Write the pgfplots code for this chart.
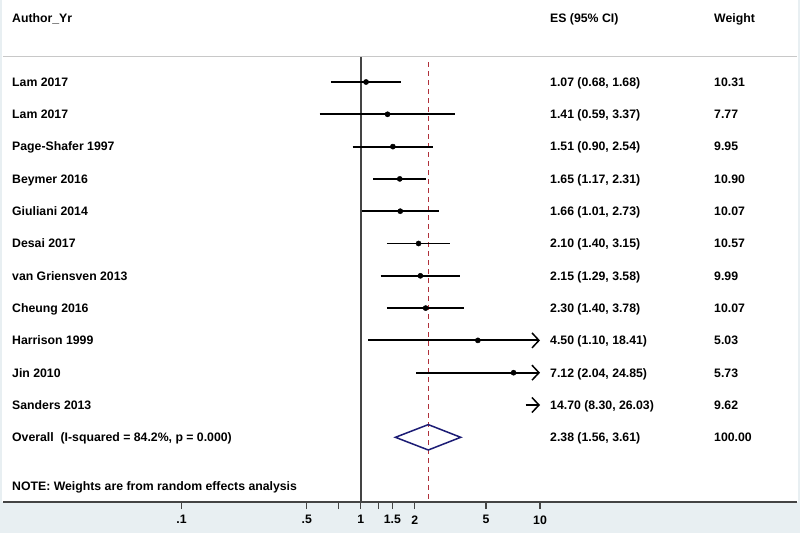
\documentclass[border=0pt]{standalone}
\usepackage{fontspec}
\setmainfont{Liberation Sans}
\usepackage{pgfplots}
\pgfplotsset{compat=1.18}
\usetikzlibrary{arrows.meta}
\definecolor{bgstrip}{HTML}{E8EFF2}
\definecolor{hdrline}{HTML}{C8C8C8}
\definecolor{nullc}{HTML}{444444}
\definecolor{refred}{HTML}{B0303A}
\definecolor{dia}{HTML}{1C1C75}
\newcommand\tf{\fontsize{12.27pt}{14pt}\selectfont\bfseries}
\begin{document}
\begin{tikzpicture}
\fill[bgstrip] (-3pt,-31pt) rectangle (797pt,502pt);
\fill[white] (-1pt,0pt) rectangle (795pt,502pt);
\useasboundingbox (-3pt,-31pt) rectangle (797pt,502pt);
\begin{axis}[
  scale only axis, width=794pt, height=502pt,
  at={(0pt,0pt)}, anchor=south west,
  xmode=log, xmin=0.010077, xmax=271.7,
  ymin=-14.003, ymax=1.5387,
  axis y line=none, axis x line*=bottom,
  axis line style={nullc, line width=1.6pt},
  xtick={0.1,0.5,0.75,1,1.25,1.5,2,5,10},
  xticklabels={.1,.5,,1,,1.5,2,5,10},
  minor xtick={}, 
  tick align=outside, major tick length=7pt,
  tick style={nullc, line width=1.2pt},
  xticklabel style={font=\tf, text=black, yshift=-3pt},
  /pgf/number format/assume math mode=true,
  clip=false,
  ci/.style={black, line width=1.9pt, forget plot},
  arr/.style={-{Straight Barb[length=7pt,width=15pt,line width=1.5pt]}},
]
% header line
\draw[hdrline, line width=1pt] (axis cs:0.010077,-0.226) -- (axis cs:271.7,-0.226);
% null line and overall ES line
\addplot[nullc, line width=1.5pt] coordinates {(1,-0.226) (1,-14.003)};
\addplot[refred, line width=1.2pt, dash pattern=on 5pt off 4pt] coordinates {(2.38,-0.381) (2.38,-14.003)};
% confidence intervals
\addplot[ci] coordinates {(0.68,-1) (1.68,-1)};
\addplot[ci] coordinates {(0.59,-2) (3.37,-2)};
\addplot[ci] coordinates {(0.90,-3) (2.54,-3)};
\addplot[ci] coordinates {(1.17,-4) (2.31,-4)};
\addplot[ci] coordinates {(1.01,-5) (2.73,-5)};
\addplot[ci] coordinates {(1.40,-6) (3.15,-6)};
\addplot[ci] coordinates {(1.29,-7) (3.58,-7)};
\addplot[ci] coordinates {(1.40,-8) (3.78,-8)};
\addplot[ci, arr] coordinates {(1.10,-9) (10,-9)};
\addplot[ci, arr] coordinates {(2.04,-10) (10,-10)};
\addplot[ci, arr] coordinates {(8.30,-11) (10,-11)};
% point estimates
\addplot[only marks, mark=*, mark size=2.6pt, black] coordinates {
(1.07,-1) (1.41,-2) (1.51,-3) (1.65,-4) (1.66,-5) (2.10,-6) (2.15,-7) (2.30,-8) (4.50,-9) (7.12,-10)};
% overall diamond
\addplot[dia, line width=1.5pt, line join=miter] coordinates {(1.56,-12) (2.38,-11.607) (3.61,-12) (2.38,-12.393)} -- cycle;
% text
\tikzset{lab/.style={anchor=base west, yshift=-4.4pt, font=\tf, inner sep=0pt}}
\node[lab] at (axis cs:0.011313,0.981) {Author\_Yr};
\node[lab] at (axis cs:11.369,0.981) {ES (95\% CI)};
\node[lab] at (axis cs:93.54,0.981) {Weight};
\node[lab] at (axis cs:0.011313,-1) {Lam 2017};
\node[lab] at (axis cs:0.011313,-2) {Lam 2017};
\node[lab] at (axis cs:0.011313,-3) {Page-Shafer 1997};
\node[lab] at (axis cs:0.011313,-4) {Beymer 2016};
\node[lab] at (axis cs:0.011313,-5) {Giuliani 2014};
\node[lab] at (axis cs:0.011313,-6) {Desai 2017};
\node[lab] at (axis cs:0.011313,-7) {van Griensven 2013};
\node[lab] at (axis cs:0.011313,-8) {Cheung 2016};
\node[lab] at (axis cs:0.011313,-9) {Harrison 1999};
\node[lab] at (axis cs:0.011313,-10) {Jin 2010};
\node[lab] at (axis cs:0.011313,-11) {Sanders 2013};
\node[lab] at (axis cs:0.011313,-12) {Overall\ \ (I-squared = 84.2\%, p = 0.000)};
\node[lab] at (axis cs:0.011313,-13.508) {NOTE: Weights are from random effects analysis};
\node[lab] at (axis cs:11.369,-1) {1.07 (0.68, 1.68)};
\node[lab] at (axis cs:11.369,-2) {1.41 (0.59, 3.37)};
\node[lab] at (axis cs:11.369,-3) {1.51 (0.90, 2.54)};
\node[lab] at (axis cs:11.369,-4) {1.65 (1.17, 2.31)};
\node[lab] at (axis cs:11.369,-5) {1.66 (1.01, 2.73)};
\node[lab] at (axis cs:11.369,-6) {2.10 (1.40, 3.15)};
\node[lab] at (axis cs:11.369,-7) {2.15 (1.29, 3.58)};
\node[lab] at (axis cs:11.369,-8) {2.30 (1.40, 3.78)};
\node[lab] at (axis cs:11.369,-9) {4.50 (1.10, 18.41)};
\node[lab] at (axis cs:11.369,-10) {7.12 (2.04, 24.85)};
\node[lab] at (axis cs:11.369,-11) {14.70 (8.30, 26.03)};
\node[lab] at (axis cs:11.369,-12) {2.38 (1.56, 3.61)};
\node[lab] at (axis cs:93.54,-1) {10.31};
\node[lab] at (axis cs:93.54,-2) {7.77};
\node[lab] at (axis cs:93.54,-3) {9.95};
\node[lab] at (axis cs:93.54,-4) {10.90};
\node[lab] at (axis cs:93.54,-5) {10.07};
\node[lab] at (axis cs:93.54,-6) {10.57};
\node[lab] at (axis cs:93.54,-7) {9.99};
\node[lab] at (axis cs:93.54,-8) {10.07};
\node[lab] at (axis cs:93.54,-9) {5.03};
\node[lab] at (axis cs:93.54,-10) {5.73};
\node[lab] at (axis cs:93.54,-11) {9.62};
\node[lab] at (axis cs:93.54,-12) {100.00};
\end{axis}
\end{tikzpicture}
\end{document}
